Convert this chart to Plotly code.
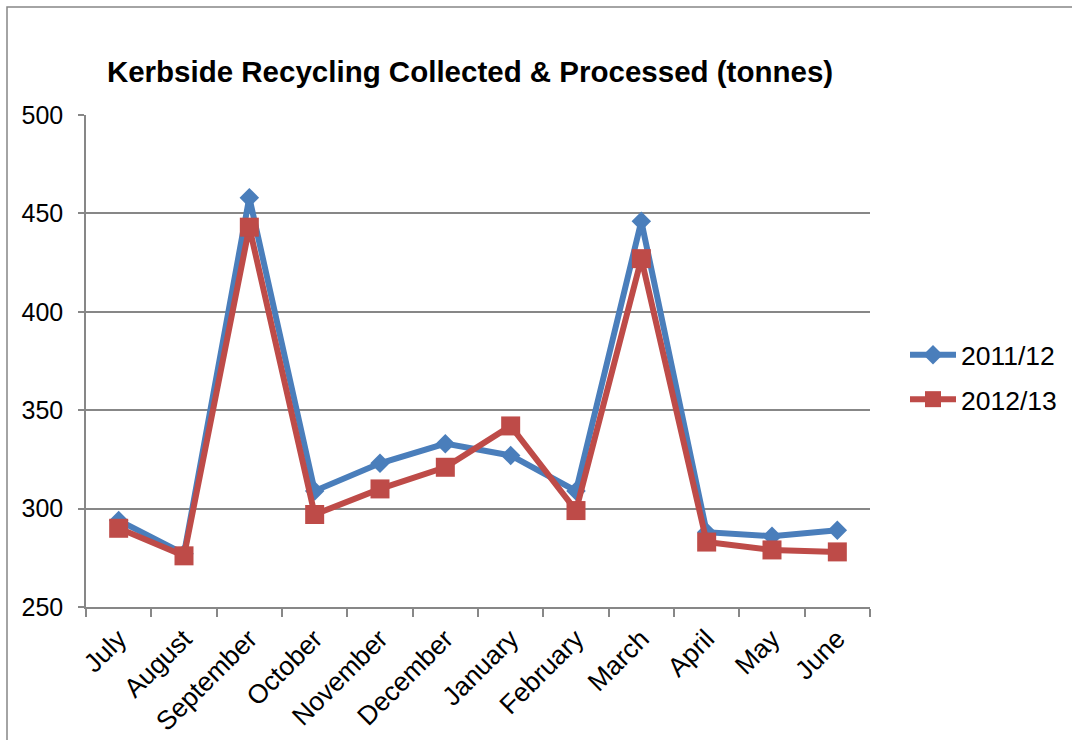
import plotly.graph_objects as go

months = ["July", "August", "September", "October", "November", "December",
          "January", "February", "March", "April", "May", "June"]
s2011 = [294, 277, 458, 309, 323, 333, 327, 309, 446, 288, 286, 289]
s2012 = [290, 276, 443, 297, 310, 321, 342, 299, 427, 283, 279, 278]
series_names = ["2011/12", "2012/13"]
y_ticks = [250, 300, 350, 400, 450, 500]

FONT = "Liberation Sans, Arial, sans-serif"
GRID = "#878787"

fig = go.Figure()
fig.add_trace(go.Scatter(
    x=months, y=s2011, name=series_names[0], mode="lines+markers",
    line=dict(color="#4A7EBB", width=6),
    marker=dict(symbol="diamond", size=15, color="#4A7EBB"),
    legendgroup="a"))
fig.add_trace(go.Scatter(
    x=months, y=s2012, name=series_names[1], mode="lines+markers",
    line=dict(color="#BE4B48", width=6),
    marker=dict(symbol="square", size=19, color="#BE4B48"),
    legendgroup="b"))

fig.update_layout(
    width=1072, height=740,
    margin=dict(l=86, r=202, t=115, b=133, autoexpand=False),
    paper_bgcolor="white", plot_bgcolor="white",
    font=dict(family=FONT, size=25, color="black"),
    title=dict(text="<b>Kerbside Recycling Collected & Processed (tonnes)</b>",
               x=(470 - 86) / 784, xref="paper", xanchor="center",
               y=1 - 72 / 740, yref="container", yanchor="middle",
               font=dict(family=FONT, size=29.5, color="black")),
    showlegend=True,
    legend=dict(x=(905 - 86) / 784, xanchor="left", y=0.4675, yanchor="middle",
                traceorder="grouped", tracegroupgap=7, itemwidth=46,
                font=dict(family=FONT, size=26.5, color="black"),
                bgcolor="rgba(0,0,0,0)"),
    xaxis=dict(type="category", range=[-0.5, 11.5], tickangle=-45,
               automargin=False, ticklabelstandoff=4,
               showline=True, linecolor=GRID, linewidth=1.5,
               ticks="outside", tickson="boundaries", ticklen=8,
               tickcolor=GRID, tickwidth=1.5, showgrid=False,
               tickfont=dict(family=FONT, size=26.5, color="black")),
    yaxis=dict(range=[250, 500], tickvals=y_ticks, showline=True,
               automargin=False,
               linecolor=GRID, linewidth=1.5, ticks="outside", ticklen=6,
               tickcolor=GRID, tickwidth=1.5, showgrid=True,
               gridcolor=GRID, gridwidth=1.5, zeroline=False,
               ticklabelstandoff=10,
               tickfont=dict(family=FONT, size=25, color="black")),
    shapes=[dict(type="rect", xref="paper", yref="paper",
                 x0=(7 - 86) / 784, x1=1.4, y0=-0.5, y1=(607 - 7) / 492,
                 line=dict(color=GRID, width=1.5), layer="below")],
)

fig.write_html("out.html")
